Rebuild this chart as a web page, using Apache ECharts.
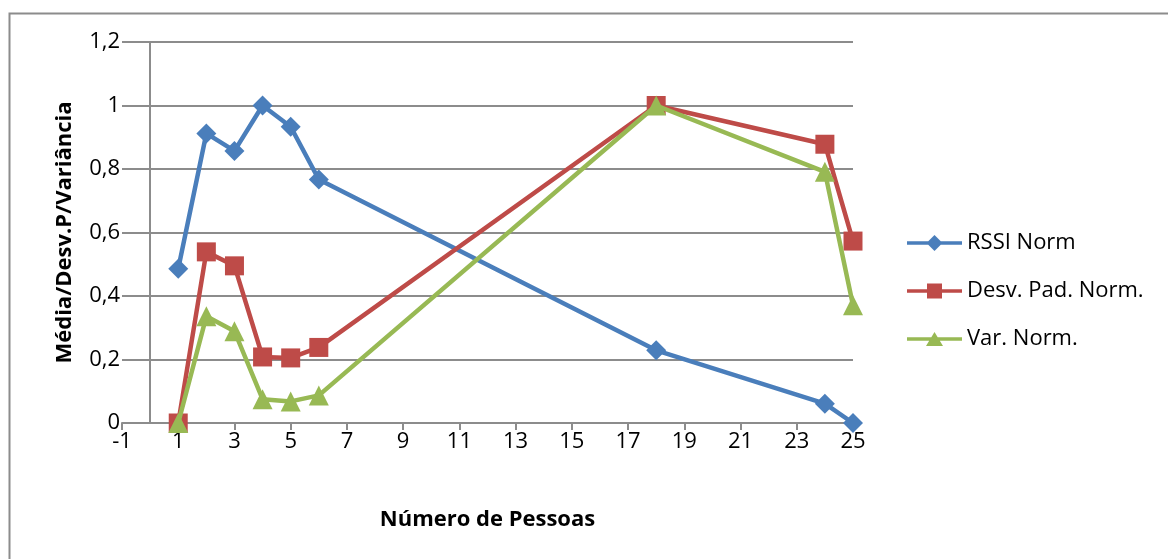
<!DOCTYPE html>
<html>
<head>
<meta charset="utf-8">
<script src="https://cdn.jsdelivr.net/npm/echarts@6/dist/echarts.min.js"></script>
<style>
  html, body { margin: 0; padding: 0; background: #fff; }
  #chart { width: 1168px; height: 559px; }
</style>
</head>
<body>
<div id="chart"></div>
<script>
// Number of people (x) for each measurement
const pessoas = [1, 2, 3, 4, 5, 6, 18, 24, 25];

// Normalised series
const rssiNorm = [0.486, 0.912, 0.857, 1.0, 0.933, 0.767, 0.229, 0.061, 0.0];
const desvPadNorm = [0.0, 0.539, 0.495, 0.208, 0.205, 0.238, 1.0, 0.878, 0.573];
const varNorm = [0.0, 0.336, 0.289, 0.075, 0.068, 0.087, 1.0, 0.791, 0.371];

const seriesNames = ['RSSI Norm', 'Desv. Pad. Norm.', 'Var. Norm.'];
const seriesColors = ['#4A7EBB', '#BE4B48', '#98B954'];

const pairs = ys => pessoas.map((x, i) => [x, ys[i]]);
const FONT = '"Open Sans", "Noto Sans", sans-serif';
const GRID_COLOR = '#8c8c8c';

// Legend icons: a thick line segment with the series marker in the middle (55 x 18 box)
const BAR = 'M0 7.2 L55 7.2 L55 10.8 L0 10.8 Z ';
const BOX = ' M0 0 L0.01 0 L0.01 0.01 Z M55 18 L54.99 18 L54.99 17.99 Z';
const legendIcons = [
  'path://' + BAR + 'M27.5 1 L35.5 9 L27.5 17 L19.5 9 Z' + BOX,
  'path://' + BAR + 'M20 1.5 L35 1.5 L35 16.5 L20 16.5 Z' + BOX,
  'path://' + BAR + 'M27.5 2 L36 16 L19 16 Z' + BOX
];

const chart = echarts.init(document.getElementById('chart'), null, { renderer: 'canvas' });

chart.setOption({
  animation: false,
  backgroundColor: '#ffffff',
  graphic: [{
    type: 'rect',
    left: 7, top: 11,
    shape: { width: 1180, height: 580 },
    style: { fill: 'none', stroke: '#8c8c8c', lineWidth: 2 },
    silent: true
  }],
  grid: { left: 122, right: 315, top: 42, bottom: 136, containLabel: false },
  legend: {
    orient: 'vertical',
    left: 902,
    top: 227,
    itemWidth: 55,
    itemHeight: 18,
    itemGap: 26,
    itemStyle: { borderWidth: 0 },
    textStyle: { fontFamily: FONT, fontSize: 22, color: '#000' },
    data: seriesNames.map((n, i) => ({ name: n, icon: legendIcons[i] }))
  },
  xAxis: {
    type: 'value',
    min: -1, max: 25, interval: 2,
    name: 'Número de Pessoas',
    nameLocation: 'middle',
    nameGap: 86,
    nameTextStyle: { fontFamily: FONT, fontSize: 22, fontWeight: 'bold', color: '#000' },
    axisLine: { onZero: false, lineStyle: { color: GRID_COLOR, width: 2 } },
    axisTick: { show: true, length: 7, lineStyle: { color: GRID_COLOR, width: 2 } },
    axisLabel: { fontFamily: FONT, fontSize: 22, color: '#000', margin: 8 },
    splitLine: { show: false }
  },
  yAxis: {
    type: 'value',
    min: 0, max: 1.2, interval: 0.2,
    name: 'Média/Desv.P/Variância',
    nameLocation: 'middle',
    nameGap: 46,
    nameTextStyle: { fontFamily: FONT, fontSize: 22, fontWeight: 'bold', color: '#000' },
    axisLine: { show: false },
    axisTick: { show: false },
    axisLabel: {
      fontFamily: FONT, fontSize: 22, color: '#000', margin: 2,
      formatter: v => (Math.round(v * 10) / 10).toString().replace('.', ',')
    },
    splitLine: { show: true, lineStyle: { color: GRID_COLOR, width: 2 } }
  },
  series: [
    {
      name: seriesNames[0], type: 'line', data: pairs(rssiNorm),
      symbol: 'diamond', symbolSize: 20, showAllSymbol: true,
      color: seriesColors[0],
      lineStyle: { width: 4.5, color: seriesColors[0] },
      itemStyle: { color: seriesColors[0] },
      z: 3,
      markLine: {
        silent: true, symbol: 'none', label: { show: false },
        lineStyle: { color: GRID_COLOR, width: 2, type: 'solid' },
        data: [{ xAxis: 0 }],
        z: 1
      }
    },
    {
      name: seriesNames[1], type: 'line', data: pairs(desvPadNorm),
      symbol: 'rect', symbolSize: 19, showAllSymbol: true,
      color: seriesColors[1],
      lineStyle: { width: 4.5, color: seriesColors[1] },
      itemStyle: { color: seriesColors[1] },
      z: 4
    },
    {
      name: seriesNames[2], type: 'line', data: pairs(varNorm),
      symbol: 'triangle', symbolSize: 20, showAllSymbol: true,
      color: seriesColors[2],
      lineStyle: { width: 4.5, color: seriesColors[2] },
      itemStyle: { color: seriesColors[2] },
      z: 5
    }
  ]
});
</script>
</body>
</html>
